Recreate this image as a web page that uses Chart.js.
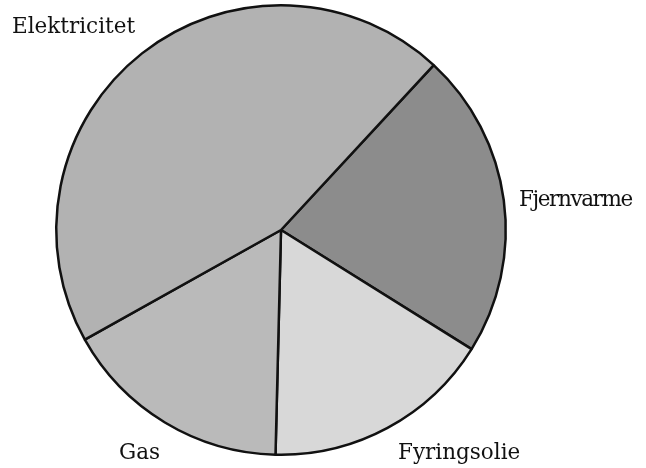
<!DOCTYPE html>
<html>
<head>
<meta charset="utf-8">
<script src="https://cdn.jsdelivr.net/npm/chart.js@4"></script>
<style>
  html, body { margin: 0; padding: 0; background: #fff; }
  #wrap { position: relative; width: 646px; height: 468px; overflow: hidden; }
  .lbl { position: absolute; font-family: "DejaVu Serif", "Liberation Serif", serif; font-size: 21.5px; color: #111; white-space: nowrap; line-height: 22px; }
</style>
</head>
<body>
<div id="wrap">
  <canvas id="c" width="646" height="468"></canvas>
  <div class="lbl" style="left:12px; top:15px;">Elektricitet</div>
  <div class="lbl" style="left:519px; top:188px; letter-spacing:-1.4px;">Fjernvarme</div>
  <div class="lbl" style="left:398px; top:441px;">Fyringsolie</div>
  <div class="lbl" style="left:119px; top:441px;">Gas</div>
</div>
<script>
const categories = ["Fjernvarme", "Fyringsolie", "Gas", "Elektricitet"];
const shares = [22, 16.5, 16.5, 45];
const sliceColors = ["#8c8c8c", "#d8d8d8", "#bababa", "#b2b2b2"];

new Chart(document.getElementById("c"), {
  type: "pie",
  data: {
    labels: categories,
    datasets: [{
      data: shares,
      backgroundColor: sliceColors,
      borderColor: "#111",
      borderWidth: 2.5,
      borderAlign: "center"
    }]
  },
  options: {
    responsive: false,
    animation: false,
    rotation: 42.8,
    layout: { padding: { left: 55, right: 139, top: 4, bottom: 12 } },
    plugins: { legend: { display: false }, tooltip: { enabled: false } }
  }
});
</script>
</body>
</html>
